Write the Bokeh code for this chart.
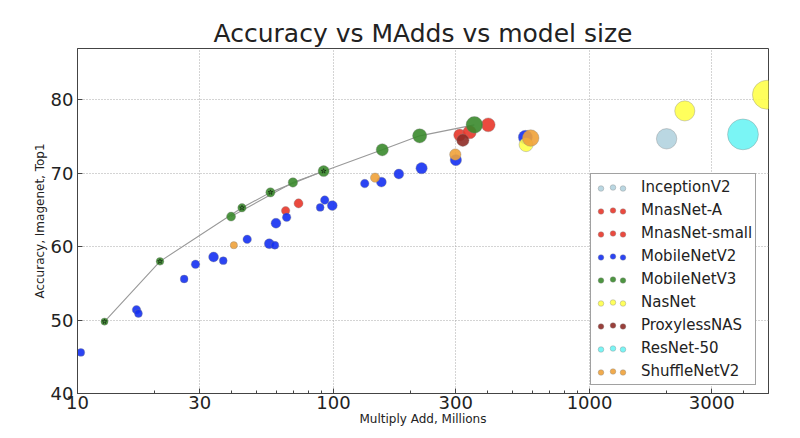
import math
from bokeh.plotting import figure
from bokeh.models import (Range1d, FixedTicker, Legend, LegendItem,
                          ColumnDataSource, PrintfTickFormatter)
from bokeh.core.properties import value
from bokeh.embed import file_html
from bokeh.resources import INLINE

FONT = "DejaVu Sans"
TEXT = "#222222"

# ---------------- data (MAdds in millions, top-1 %, params in millions) ----
inception_madds = [2000]
inception_acc = [74.7]
inception_params = [11.2]

mnas_a_madds = [311, 340, 402]
mnas_a_acc = [75.2, 75.6, 76.6]
mnas_a_params = [3.9, 4.8, 5.2]

mnas_small_madds = [65, 73]
mnas_small_acc = [64.9, 65.9]
mnas_small_params = [1.9, 2.2]

mbv2_madds = [10.3, 17.0, 17.3, 26.1, 28.9, 34.0, 37.1, 46.0, 56.1, 59.0, 59.6,
              65.6, 88.7, 92.4, 98.9, 132.4, 153.8, 179.9, 220.8, 300.5, 561.6]
mbv2_acc = [45.6, 51.4, 50.9, 55.6, 57.6, 58.6, 58.1, 61.0, 60.4, 60.2, 63.2,
            64.0, 65.35, 66.35, 65.6, 68.6, 68.8, 69.9, 70.7, 71.8, 74.9]
mbv2_params = [1.66, 1.95, 1.66, 1.66, 1.95, 2.61, 1.66, 1.95, 2.61, 1.66, 2.61,
               1.95, 1.66, 1.95, 2.61, 1.95, 2.61, 2.61, 3.47, 3.47, 5.3]

mbv3_large_madds = [39.8, 69.4, 155, 217, 355]
mbv3_large_acc = [64.1, 68.75, 73.2, 75.1, 76.6]
mbv3_large_params = [2.2, 2.4, 4.0, 5.4, 7.5]

mbv3_small_madds = [12.75, 21, 43.9, 56.7, 91.5]
mbv3_small_acc = [49.8, 58.0, 65.3, 67.4, 70.3]
mbv3_small_params = [1.4, 1.6, 1.9, 2.3, 3.3]

nasnet_madds = [565, 2355, 4930]
nasnet_acc = [73.9, 78.5, 80.7]
nasnet_params = [5.3, 10.9, 22.6]

proxyless_madds = [320]
proxyless_acc = [74.5]
proxyless_params = [4.1]

resnet_madds = [3975]
resnet_acc = [75.3]
resnet_params = [25.6]

shuffle_madds = [40.8, 145.3, 299, 589]
shuffle_acc = [60.2, 69.4, 72.55, 74.8]
shuffle_params = [1.4, 2.3, 3.5, 7.4]

x_ticks = [10, 30, 100, 300, 1000, 3000]
y_ticks = [40, 50, 60, 70, 80]


def marker_size(params):
    # marker area proportional to model size
    return [6.1 * math.sqrt(v) for v in params]


p = figure(width=800, height=438, x_axis_type="log",
           x_range=Range1d(10, 5000), y_range=Range1d(40, 87),
           output_backend="svg", toolbar_location=None,
           min_border_left=77, min_border_right=32,
           min_border_top=48, min_border_bottom=45)

p.title.text = "Accuracy vs MAdds vs model size"
p.title.align = "center"
p.title.text_font = FONT
p.title.text_font_size = "25px"
p.title.text_font_style = "normal"
p.title.text_color = TEXT
p.title.standoff = 1

p.background_fill_color = "white"
p.border_fill_color = "white"
p.outline_line_color = "#444444"
p.outline_line_width = 1

minor = []
for dec in [10, 100, 1000]:
    for m in range(2, 10):
        if dec * m <= 5000 and dec * m not in x_ticks:
            minor.append(dec * m)

xa = p.xaxis[0]
xa.ticker = FixedTicker(ticks=x_ticks, minor_ticks=minor)
xa.formatter = PrintfTickFormatter(format="%d")
ya = p.yaxis[0]
ya.ticker = FixedTicker(ticks=y_ticks)

for ax in (xa, ya):
    ax.major_label_text_font = FONT
    ax.major_label_text_font_size = "18px"
    ax.major_label_text_color = TEXT
    ax.axis_label_text_font = FONT
    ax.axis_label_text_font_size = "12px"
    ax.axis_label_text_font_style = "normal"
    ax.axis_label_text_color = TEXT
    ax.axis_line_color = "#444444"
    ax.major_tick_line_color = "#444444"
    ax.minor_tick_line_color = "#444444"
    ax.major_tick_in = 5
    ax.major_tick_out = 0
    ax.minor_tick_in = 3
    ax.minor_tick_out = 0
    ax.axis_label_standoff = 1

xa.axis_label = "Multiply Add, Millions"
xa.major_label_standoff = 2
xa.axis_label_standoff = 0
ya.axis_label = "Accuracy, Imagenet, Top1"
ya.major_label_standoff = 4
ya.minor_tick_line_color = None

for g in (p.xgrid[0], p.ygrid[0]):
    g.grid_line_color = "#a8a8a8"
    g.grid_line_dash = "1 2"
    g.grid_line_width = 1

# MobileNetV3 curves
p.line(mbv3_small_madds, mbv3_small_acc, line_color="#999999", line_width=1.1)
p.line(mbv3_large_madds, mbv3_large_acc, line_color="#999999", line_width=1.1)

series = [
    ("InceptionV2", inception_madds, inception_acc, inception_params, "#b3d3df"),
    ("MnasNet-A", mnas_a_madds, mnas_a_acc, mnas_a_params, "#e8362a"),
    ("MnasNet-small", mnas_small_madds, mnas_small_acc, mnas_small_params, "#e8362a"),
    ("MobileNetV2", mbv2_madds, mbv2_acc, mbv2_params, "#1430f2"),
    ("MobileNetV3", mbv3_large_madds + mbv3_small_madds,
     mbv3_large_acc + mbv3_small_acc, mbv3_large_params + mbv3_small_params, "#3a8a2c"),
    ("NasNet", nasnet_madds, nasnet_acc, nasnet_params, "#ffff4a"),
    ("ProxylessNAS", proxyless_madds, proxyless_acc, proxyless_params, "#8e2b26"),
    ("ResNet-50", resnet_madds, resnet_acc, resnet_params, "#6cf4f4"),
    ("ShuffleNetV2", shuffle_madds, shuffle_acc, shuffle_params, "#efa23a"),
]

items = []
side_l = []
side_r = []
for name, xs, ys, ps, color in series:
    src = ColumnDataSource(dict(x=xs, y=ys, s=marker_size(ps)))
    r = p.scatter("x", "y", size="s", source=src, fill_color=color,
                  fill_alpha=0.9, line_color="#808080", line_alpha=0.6,
                  line_width=0.6)
    items.append(LegendItem(label=name, renderers=[r]))
    side_l.append(LegendItem(label=value(""), renderers=[r]))
    side_r.append(LegendItem(label=value(""), renderers=[r]))

# small-model markers
p.scatter(mbv3_small_madds, mbv3_small_acc, marker="star", size=5,
          fill_alpha=0, line_color="black", line_width=0.6, line_alpha=0.8)

common = dict(padding=3, spacing=3, glyph_height=14, glyph_width=37,
              label_height=20, margin=0)

main = Legend(items=items, location=(513, 8), label_standoff=10,
              label_text_font=FONT, label_text_font_size="15px",
              label_text_color=TEXT, border_line_color="#444444",
              border_line_width=1, background_fill_color="white",
              background_fill_alpha=1.0, **common)
p.add_layout(main)
for leg_items, dx in ((side_l, -11), (side_r, 11)):
    leg = Legend(items=leg_items, location=(513 + dx, 8), label_standoff=0,
                 label_text_font_size="15px", border_line_alpha=0,
                 background_fill_alpha=0, **common)
    p.add_layout(leg)

open("out.html", "w").write(file_html(p, INLINE))
